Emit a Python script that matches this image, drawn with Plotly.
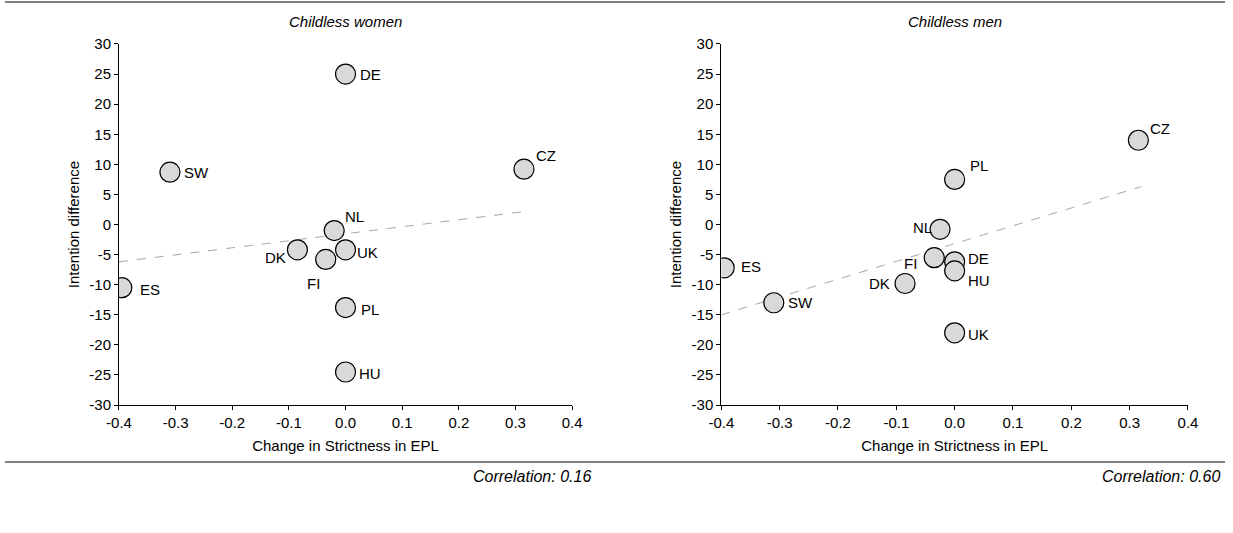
import plotly.graph_objects as go

w_codes = ["DE","CZ","SW","NL","UK","DK","FI","ES","PL","HU"]
w_x = [0.0,0.315,-0.31,-0.02,0.0,-0.085,-0.035,-0.395,0.0,0.0]
w_y = [25,9.2,8.7,-1,-4.2,-4.2,-5.8,-10.5,-13.8,-24.5]
w_off = [(25,0),(22,14),(27,0),(20,14),(22,-3),(-22,-8),(-12,-24),(28,-2),(24,-2),(24,-2)]
w_trend_x = [-0.4,0.32]; w_trend_y = [-6.2,2.2]

m_codes = ["CZ","PL","NL","DE","FI","HU","DK","ES","SW","UK"]
m_x = [0.315,0.0,-0.025,0.0,-0.035,0.0,-0.085,-0.395,-0.31,0.0]
m_y = [14,7.5,-0.8,-6.2,-5.5,-7.7,-9.8,-7.2,-13,-18]
m_off = [(22,12),(24,14),(-18,2),(24,3),(-24,-6),(24,-10),(-26,0),(27,1),(27,0),(24,-2)]
m_trend_x = [-0.4,0.32]; m_trend_y = [-15,6.3]

x_ticks = [-0.4,-0.3,-0.2,-0.1,0.0,0.1,0.2,0.3,0.4]
x_labels = ["-0.4","-0.3","-0.2","-0.1","0.0","0.1","0.2","0.3","0.4"]
y_ticks = list(range(-30,31,5))
y_labels = [str(v) for v in y_ticks]

font = dict(family="Liberation Sans, Arial", size=15, color="black")
fig = go.Figure()
anns = []
for xs, ys, codes, offs, tx, ty, xa, ya in [
    (w_x, w_y, w_codes, w_off, w_trend_x, w_trend_y, "x", "y"),
    (m_x, m_y, m_codes, m_off, m_trend_x, m_trend_y, "x2", "y2")]:
    fig.add_trace(go.Scatter(x=tx, y=ty, mode="lines", xaxis=xa, yaxis=ya,
                             line=dict(color="#a6a6a6", width=1, dash="dash"), showlegend=False))
    fig.add_trace(go.Scatter(x=xs, y=ys, mode="markers", xaxis=xa, yaxis=ya,
                             marker=dict(size=20, color="#d9d9d9", line=dict(color="black", width=1.2)),
                             showlegend=False))
    for c, x, y, (dx, dy) in zip(codes, xs, ys, offs):
        anns.append(dict(x=x, y=y, xref=xa, yref=ya, text=c, showarrow=False,
                         xshift=dx, yshift=dy, font=font))

ax = dict(range=[-0.4,0.4], tickvals=x_ticks, ticktext=x_labels, showline=True, linecolor="black",
          ticks="outside", ticklen=4, tickcolor="black", showgrid=False, zeroline=False, automargin=False,
          tickfont=font, title=dict(text="Change in Strictness in EPL", font=font, standoff=10))
ay = dict(range=[-30,30], tickvals=y_ticks, ticktext=y_labels, showline=True, linecolor="black", ticks="outside", ticklen=4,
          tickcolor="black", showgrid=False, zeroline=False, tickfont=font, automargin=False,
          title=dict(text="Intention difference", font=font, standoff=6))
fig.update_layout(
    width=1233, height=533, margin=dict(l=0, r=0, t=0, b=0),
    plot_bgcolor="white", paper_bgcolor="white",
    xaxis=dict(ax, domain=[0.0965,0.464], anchor="y"),
    yaxis=dict(ay, domain=[0.24,0.9175], anchor="x"),
    xaxis2=dict(ax, domain=[0.585,0.9635], anchor="y2"),
    yaxis2=dict(ay, domain=[0.24,0.9175], anchor="x2"),
    annotations=anns + [
        dict(x=0.5, y=1-11/533, xref="x domain", yref="paper", text="<i>Childless women</i>",
             showarrow=False, font=font),
        dict(x=0.5, y=1-11/533, xref="x2 domain", yref="paper", text="<i>Childless men</i>",
             showarrow=False, font=font),
        dict(x=593/1233, y=1-487/533, xref="paper", yref="paper", text="<i>Correlation: 0.16</i>",
             showarrow=False, font=dict(font, size=16), xanchor="right"),
        dict(x=1222/1233, y=1-487/533, xref="paper", yref="paper", text="<i>Correlation: 0.60</i>",
             showarrow=False, font=dict(font, size=16), xanchor="right"),
    ],
    shapes=[
        dict(type="line", xref="paper", yref="paper", x0=5/1233, x1=1225/1233, y0=1-2/533, y1=1-2/533,
             line=dict(color="black", width=1)),
        dict(type="line", xref="paper", yref="paper", x0=5/1233, x1=1225/1233, y0=1-462/533, y1=1-462/533,
             line=dict(color="black", width=1)),
    ])
fig.write_html("out.html", config={"displayModeBar": False},
               post_script="document.body.style.margin='0';document.body.style.overflow='hidden';")
